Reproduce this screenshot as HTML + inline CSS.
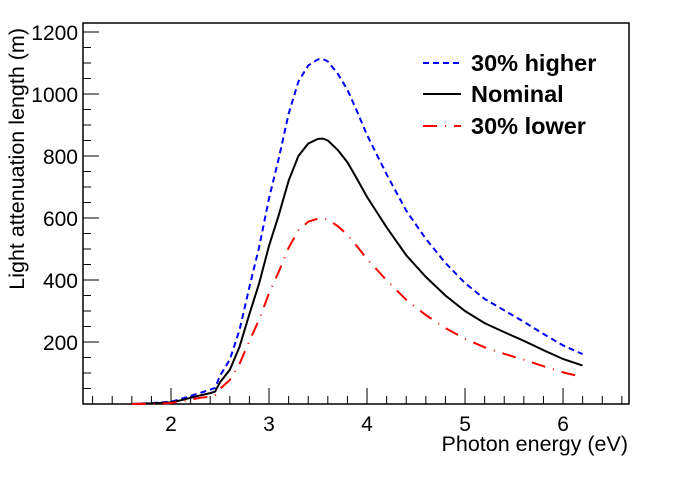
<!DOCTYPE html>
<html><head><meta charset="utf-8"><style>
body{margin:0;background:#fff}
svg text{font-family:"Liberation Sans",sans-serif}
</style></head><body>
<svg id="chart" width="698" height="476" xmlns="http://www.w3.org/2000/svg">
<rect width="698" height="476" fill="#fff"/>
<g id="axes"></g>
<g id="series"></g>
<g id="legend">
 <line x1="423" y1="63" x2="461" y2="63" stroke="#0000ff" stroke-width="2" stroke-dasharray="6,4"/>
 <text x="471" y="71" font-size="23.5" font-weight="bold">30% higher</text>
 <line x1="423" y1="94" x2="461" y2="94" stroke="#000" stroke-width="2"/>
 <text x="471" y="102" font-size="23.5" font-weight="bold">Nominal</text>
 <line x1="423" y1="126" x2="461" y2="126" stroke="#ff0000" stroke-width="2" stroke-dasharray="14,8,1,8"/>
 <text x="471" y="134" font-size="23.5" font-weight="bold">30% lower</text>
</g>
<text x="628" y="451" font-size="21.5" text-anchor="end">Photon energy (eV)</text>
<text transform="translate(24,28) rotate(-90)" font-size="21.5" text-anchor="end">Light attenuation length (m)</text>
</svg>
<script>
const energies=[1.6,1.8,2.0,2.1,2.2,2.3,2.4,2.45,2.5,2.6,2.7,2.8,2.9,3.0,3.1,3.2,3.3,3.4,3.5,3.55,3.6,3.7,3.8,3.9,4.0,4.2,4.4,4.6,4.8,5.0,5.2,5.4,5.6,5.8,6.0,6.2];
const nominal=[0,2,5,12,20,28,35,40,70,110,185,290,390,510,610,720,800,840,855,856,850,820,780,725,668,570,480,410,350,300,261,232,204,174,145,124];
const higher=[0,3,7,16,26,36,46,52,91,143,240,377,507,663,793,936,1040,1092,1112,1113,1105,1066,1014,943,868,741,624,533,455,390,339,302,265,226,189,161];
const lower=[0,1,3,8,14,20,24,28,49,77,130,203,273,357,427,504,560,588,598,599,595,574,546,508,468,399,336,287,245,210,183,162,143,122,102,87];
const xTicks=[2,3,4,5,6];
const yTicks=[200,400,600,800,1000,1200];
const X0=83,X1=629,Y0=404,Y1=23,xmin=1.102,xmax=6.673,ymin=0,ymax=1229;
const sx=v=>X0+(v-xmin)/(xmax-xmin)*(X1-X0);
const sy=v=>Y0-(v-ymin)/(ymax-ymin)*(Y0-Y1);
const NS="http://www.w3.org/2000/svg";
const axes=document.getElementById('axes'),ser=document.getElementById('series');
function mk(tag,attrs,parent){const e=document.createElementNS(NS,tag);for(const k in attrs)e.setAttribute(k,attrs[k]);parent.appendChild(e);return e;}
const frame=mk('rect',{x:X0,y:Y1,width:X1-X0,height:Y0-Y1,fill:'none',stroke:'#000','stroke-width':1.5},axes);


for(let v=1.2;v<=6.61;v+=0.2){const major=Math.abs(v-Math.round(v))<1e-6;
 const t=mk('line',{x1:sx(v),x2:sx(v),y1:Y0,y2:Y0-(major?16:8),stroke:'#000','stroke-width':1},axes);
 
 }
xTicks.forEach(v=>{const t=mk('text',{x:sx(v),y:431,'font-size':21,'text-anchor':'middle'},axes);t.textContent=v;
 
 });
for(let v=50;v<=1200;v+=50){const major=v%200===0;
 const t=mk('line',{x1:X0,x2:X0+(major?16:8),y1:sy(v),y2:sy(v),stroke:'#000','stroke-width':1},axes);
 
 }
yTicks.forEach(v=>{const t=mk('text',{x:78,y:sy(v)+8,'font-size':21,'text-anchor':'end'},axes);t.textContent=v;
 
 });
function line(vals,color,dash,name){const d=energies.map((e,i)=>(i?'L':'M')+sx(e).toFixed(1)+','+sy(vals[i]).toFixed(1)).join('');
 const p=mk('path',{d:d,fill:'none',stroke:color,'stroke-width':2},ser);if(dash)p.setAttribute('stroke-dasharray',dash);
 
 }
line(higher,'#0000ff','6,4','higher-series-line');
line(nominal,'#000',null,'nominal-series-line');
line(lower,'#ff0000','14,8,1,8','lower-series-line');
</script>
</body></html>
